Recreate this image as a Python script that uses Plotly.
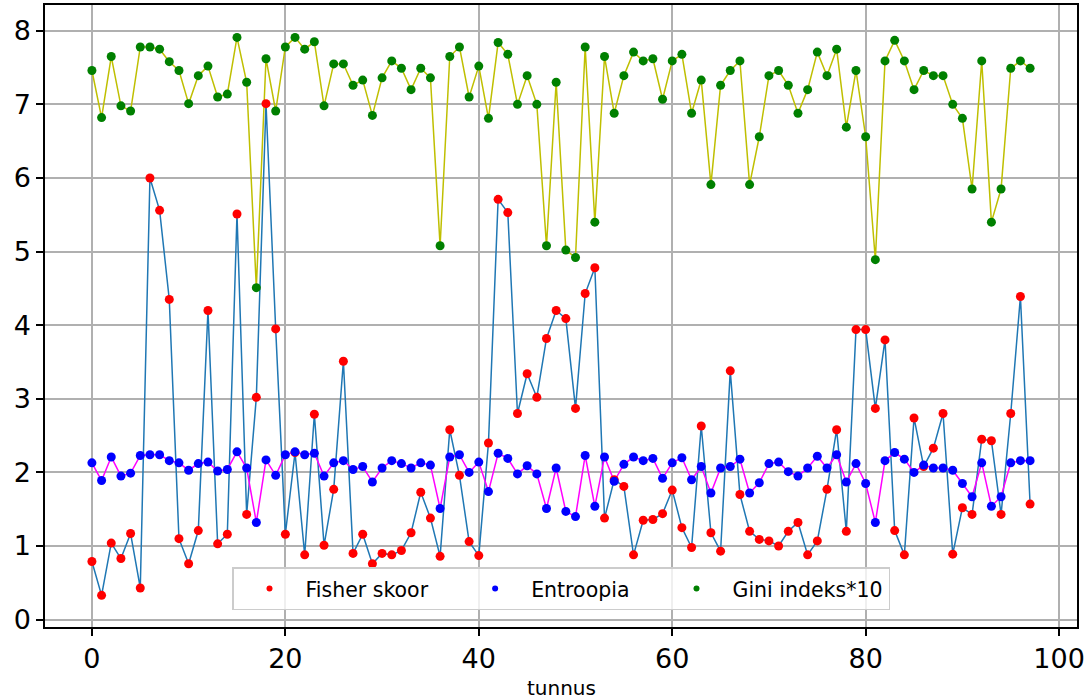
import plotly.graph_objects as go

tunnus = list(range(98))

fisher = [0.79, 0.33, 1.04, 0.83, 1.17, 0.43, 6.00, 5.56, 4.35, 1.10,
          0.76, 1.21, 4.20, 1.03, 1.16, 5.51, 1.43, 3.02, 7.01, 3.95,
          1.16, 2.27, 0.88, 2.79, 1.01, 1.77, 3.51, 0.90, 1.16, 0.76,
          0.90, 0.88, 0.94, 1.18, 1.73, 1.38, 0.86, 2.58, 1.96, 1.06,
          0.87, 2.40, 5.71, 5.53, 2.80, 3.34, 3.02, 3.82, 4.20, 4.09,
          2.87, 4.43, 4.78, 1.38, 1.90, 1.81, 0.88, 1.35, 1.36, 1.44,
          1.76, 1.25, 0.98, 2.63, 1.18, 0.93, 3.38, 1.70, 1.20, 1.09,
          1.07, 1.00, 1.20, 1.32, 0.88, 1.07, 1.77, 2.58, 1.20, 3.94,
          3.94, 2.87, 3.80, 1.21, 0.88, 2.74, 2.08, 2.33, 2.80, 0.89,
          1.52, 1.43, 2.45, 2.43, 1.43, 2.80, 4.39, 1.57]

entroopia = [2.13, 1.89, 2.21, 1.95, 1.99, 2.23, 2.24, 2.24, 2.16, 2.13,
             2.03, 2.12, 2.14, 2.02, 2.04, 2.28, 2.06, 1.32, 2.17, 1.96,
             2.24, 2.28, 2.24, 2.26, 1.95, 2.13, 2.16, 2.04, 2.08, 1.87,
             2.06, 2.16, 2.12, 2.06, 2.13, 2.10, 1.51, 2.21, 2.24, 2.00,
             2.14, 1.74, 2.26, 2.19, 1.98, 2.09, 1.98, 1.51, 2.06, 1.47,
             1.40, 2.23, 1.54, 2.21, 1.88, 2.11, 2.21, 2.16, 2.19, 1.92,
             2.13, 2.20, 1.90, 2.08, 1.72, 2.06, 2.08, 2.18, 1.72, 1.86,
             2.12, 2.14, 2.01, 1.95, 2.06, 2.22, 2.06, 2.24, 1.87, 2.12,
             1.85, 1.32, 2.16, 2.27, 2.18, 2.00, 2.10, 2.06, 2.06, 2.03,
             1.85, 1.67, 2.13, 1.54, 1.67, 2.13, 2.16, 2.16]

gini10 = [7.46, 6.82, 7.65, 6.98, 6.91, 7.78, 7.78, 7.75, 7.58, 7.46,
          7.01, 7.39, 7.52, 7.10, 7.14, 7.91, 7.30, 4.51, 7.62, 6.91,
          7.78, 7.91, 7.75, 7.85, 6.98, 7.55, 7.55, 7.26, 7.33, 6.85,
          7.36, 7.59, 7.49, 7.20, 7.49, 7.36, 5.08, 7.65, 7.78, 7.10,
          7.52, 6.81, 7.84, 7.68, 7.00, 7.39, 7.00, 5.08, 7.30, 5.02,
          4.92, 7.78, 5.40, 7.65, 6.88, 7.39, 7.71, 7.59, 7.62, 7.07,
          7.59, 7.68, 6.88, 7.33, 5.91, 7.26, 7.46, 7.59, 5.91, 6.56,
          7.39, 7.46, 7.26, 6.88, 7.20, 7.71, 7.39, 7.75, 6.69, 7.46,
          6.56, 4.89, 7.59, 7.87, 7.59, 7.20, 7.46, 7.39, 7.39, 7.00,
          6.81, 5.85, 7.59, 5.40, 5.85, 7.49, 7.59, 7.49]

legend_names = ["Fisher skoor", "Entroopia", "Gini indeks*10"]
x_ticks = [0, 20, 40, 60, 80, 100]
y_ticks = [0, 1, 2, 3, 4, 5, 6, 7, 8]
x_title = "tunnus"

FONT = "DejaVu Sans"
fig = go.Figure()

# lines
fig.add_trace(go.Scatter(x=tunnus, y=fisher, mode="lines",
                         line=dict(color="#1f77b4", width=1.5), showlegend=False, hoverinfo="skip"))
fig.add_trace(go.Scatter(x=tunnus, y=entroopia, mode="lines",
                         line=dict(color="#ff00ff", width=1.5), showlegend=False, hoverinfo="skip"))
fig.add_trace(go.Scatter(x=tunnus, y=gini10, mode="lines",
                         line=dict(color="#bfbf00", width=1.5), showlegend=False, hoverinfo="skip"))

# markers
for ys, col in [(fisher, "#ff0000"), (entroopia, "#0000ff"), (gini10, "#008000")]:
    fig.add_trace(go.Scatter(x=tunnus, y=ys, mode="markers",
                             marker=dict(color=col, size=9, line=dict(width=0)),
                             showlegend=False))

# legend entries (trailing non-breaking spaces mimic the column spacing)
pads = ["\u00a0" * 4, "\u00a0" * 4, ""]
for name, col, pad in zip(legend_names, ["#ff0000", "#0000ff", "#008000"], pads):
    fig.add_trace(go.Scatter(x=[None], y=[None], mode="markers", name=name + pad,
                             marker=dict(color=col, size=6)))

axis_common = dict(showgrid=True, gridcolor="#b0b0b0", gridwidth=2, automargin=False,
                   zeroline=False, showline=True, linecolor="black", linewidth=1.5,
                   mirror=True, ticks="outside", ticklen=7, tickwidth=1.5, tickcolor="black",
                   tickfont=dict(family=FONT, size=27, color="black"))

fig.update_layout(
    width=1092, height=700,
    margin=dict(l=45, r=15, t=5, b=73),
    paper_bgcolor="white", plot_bgcolor="white",
    font=dict(family=FONT, color="black"),
    xaxis=dict(range=[-4.85, 101.85], tickvals=x_ticks, **axis_common),
    yaxis=dict(range=[-0.1, 8.35], tickvals=y_ticks, **axis_common),
    legend=dict(orientation="h", x=0.5, xanchor="center", y=0.027, yanchor="bottom",
                bgcolor="rgba(255,255,255,0.8)", bordercolor="#cccccc", borderwidth=1.5,
                font=dict(family=FONT, size=20.5, color="black"), itemwidth=62),
    annotations=[dict(text=x_title, xref="paper", yref="paper", x=0.5, y=-0.098,
                      xanchor="center", yanchor="middle", showarrow=False,
                      font=dict(family=FONT, size=20, color="black"))],
)

fig.write_html("out.html", config={"displayModeBar": False},
               post_script="document.body.style.margin='0';document.body.style.padding='0';")
